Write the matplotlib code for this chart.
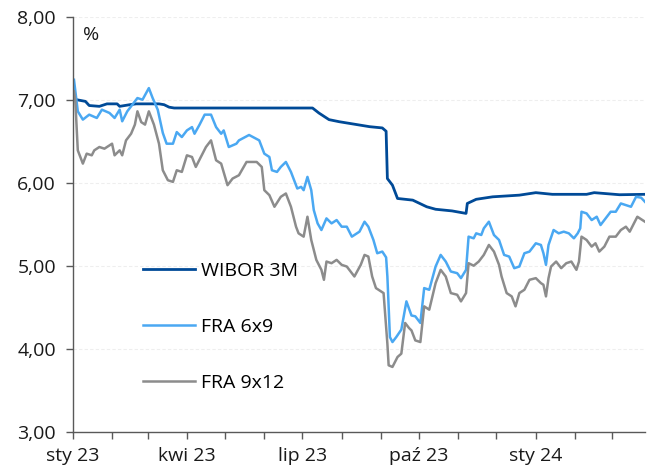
import pandas as pd
import matplotlib
matplotlib.use('Agg')
import matplotlib.pyplot as plt
import matplotlib.dates as mdates
from matplotlib.ticker import FuncFormatter

# ---------------- data ----------------
wibor_dates = ['2023-01-02', '2023-01-04', '2023-01-11', '2023-01-14', '2023-01-22', '2023-01-28',
               '2023-02-05', '2023-02-07', '2023-02-15', '2023-02-20', '2023-03-10', '2023-03-14',
               '2023-03-18', '2023-03-22', '2023-07-09', '2023-07-14', '2023-07-22', '2023-07-30',
               '2023-08-09', '2023-08-23', '2023-09-02', '2023-09-05', '2023-09-06', '2023-09-10',
               '2023-09-14', '2023-09-26', '2023-10-07', '2023-10-14', '2023-10-27', '2023-11-07',
               '2023-11-08', '2023-11-15', '2023-11-28', '2023-12-19', '2024-01-01', '2024-01-14',
               '2024-02-10', '2024-02-16', '2024-03-07', '2024-03-27']
wibor_vals = [7.02, 7.00, 6.98, 6.93, 6.92, 6.95,
              6.95, 6.92, 6.94, 6.95, 6.95, 6.94,
              6.91, 6.90, 6.90, 6.84, 6.76, 6.735,
              6.71, 6.675, 6.66, 6.62, 6.05, 5.97,
              5.81, 5.79, 5.71, 5.68, 5.66, 5.63,
              5.75, 5.80, 5.83, 5.85, 5.88, 5.86,
              5.86, 5.88, 5.855, 5.86]

fra69_dates = ['2023-01-02', '2023-01-05', '2023-01-09', '2023-01-14', '2023-01-20', '2023-01-24',
               '2023-01-30', '2023-02-03', '2023-02-07', '2023-02-09', '2023-02-13', '2023-02-17',
               '2023-02-21', '2023-02-25', '2023-03-02', '2023-03-05', '2023-03-09', '2023-03-13',
               '2023-03-16', '2023-03-21', '2023-03-24', '2023-03-28', '2023-04-01', '2023-04-05',
               '2023-04-07', '2023-04-11', '2023-04-15', '2023-04-20', '2023-04-24', '2023-04-28',
               '2023-04-30', '2023-05-04', '2023-05-10', '2023-05-12', '2023-05-20', '2023-05-28',
               '2023-06-01', '2023-06-05', '2023-06-07', '2023-06-11', '2023-06-14', '2023-06-18',
               '2023-06-22', '2023-06-25', '2023-06-27', '2023-06-30', '2023-07-02', '2023-07-05',
               '2023-07-08', '2023-07-10', '2023-07-13', '2023-07-16', '2023-07-20', '2023-07-24',
               '2023-07-28', '2023-08-01', '2023-08-05', '2023-08-09', '2023-08-15', '2023-08-19',
               '2023-08-22', '2023-08-26', '2023-08-29', '2023-09-02', '2023-09-05', '2023-09-06',
               '2023-09-08', '2023-09-10', '2023-09-13', '2023-09-17', '2023-09-21', '2023-09-25',
               '2023-09-28', '2023-10-02', '2023-10-05', '2023-10-09', '2023-10-14', '2023-10-18',
               '2023-10-22', '2023-10-26', '2023-10-31', '2023-11-03', '2023-11-07', '2023-11-09',
               '2023-11-13', '2023-11-15', '2023-11-19', '2023-11-21', '2023-11-25', '2023-11-29',
               '2023-12-03', '2023-12-07', '2023-12-11', '2023-12-15', '2023-12-19', '2023-12-23',
               '2023-12-27', '2024-01-01', '2024-01-05', '2024-01-07', '2024-01-09', '2024-01-11',
               '2024-01-15', '2024-01-19', '2024-01-23', '2024-01-27', '2024-01-31', '2024-02-03',
               '2024-02-05', '2024-02-06', '2024-02-10', '2024-02-14', '2024-02-18', '2024-02-21',
               '2024-02-25', '2024-02-29', '2024-03-04', '2024-03-08', '2024-03-12', '2024-03-16',
               '2024-03-20', '2024-03-24', '2024-03-27']
fra69_vals = [7.24, 6.86, 6.76, 6.82, 6.78, 6.88,
              6.84, 6.78, 6.88, 6.74, 6.86, 6.94,
              7.02, 7.00, 7.14, 7.02, 6.88, 6.60,
              6.47, 6.47, 6.61, 6.55, 6.63, 6.67,
              6.59, 6.70, 6.82, 6.82, 6.67, 6.59,
              6.63, 6.43, 6.47, 6.51, 6.575, 6.51,
              6.35, 6.31, 6.15, 6.13, 6.19, 6.25,
              6.13, 6.01, 5.93, 5.95, 5.91, 6.07,
              5.91, 5.67, 5.51, 5.43, 5.57, 5.51,
              5.55, 5.47, 5.47, 5.35, 5.41, 5.53,
              5.47, 5.31, 5.15, 5.17, 5.10, 4.87,
              4.14, 4.08, 4.14, 4.23, 4.57, 4.40,
              4.39, 4.31, 4.73, 4.71, 4.99, 5.13,
              5.05, 4.93, 4.91, 4.85, 4.95, 5.35,
              5.33, 5.39, 5.37, 5.45, 5.53, 5.37,
              5.31, 5.13, 5.11, 4.97, 4.99, 5.15,
              5.17, 5.27, 5.25, 5.15, 5.01, 5.25,
              5.43, 5.39, 5.41, 5.39, 5.33, 5.39,
              5.45, 5.65, 5.63, 5.55, 5.59, 5.49,
              5.57, 5.65, 5.65, 5.75, 5.73, 5.71,
              5.83, 5.82, 5.77]

fra912_dates = ['2023-01-02', '2023-01-03', '2023-01-05', '2023-01-09', '2023-01-12', '2023-01-16',
                '2023-01-18', '2023-01-22', '2023-01-26', '2023-02-01', '2023-02-03', '2023-02-07',
                '2023-02-09', '2023-02-12', '2023-02-16', '2023-02-19', '2023-02-21', '2023-02-24',
                '2023-02-27', '2023-03-02', '2023-03-06', '2023-03-10', '2023-03-13', '2023-03-17',
                '2023-03-21', '2023-03-24', '2023-03-28', '2023-04-01', '2023-04-05', '2023-04-08',
                '2023-04-12', '2023-04-16', '2023-04-20', '2023-04-24', '2023-04-28', '2023-05-03',
                '2023-05-07', '2023-05-12', '2023-05-18', '2023-05-26', '2023-05-30', '2023-06-01',
                '2023-06-05', '2023-06-09', '2023-06-14', '2023-06-18', '2023-06-22', '2023-06-26',
                '2023-06-28', '2023-07-02', '2023-07-05', '2023-07-08', '2023-07-12', '2023-07-16',
                '2023-07-18', '2023-07-20', '2023-07-24', '2023-07-28', '2023-08-01', '2023-08-05',
                '2023-08-11', '2023-08-16', '2023-08-19', '2023-08-22', '2023-08-25', '2023-08-28',
                '2023-09-01', '2023-09-03', '2023-09-06', '2023-09-07', '2023-09-10', '2023-09-14',
                '2023-09-17', '2023-09-20', '2023-09-23', '2023-09-25', '2023-09-28', '2023-10-02',
                '2023-10-05', '2023-10-09', '2023-10-14', '2023-10-18', '2023-10-22', '2023-10-26',
                '2023-10-31', '2023-11-03', '2023-11-07', '2023-11-09', '2023-11-13', '2023-11-17',
                '2023-11-21', '2023-11-25', '2023-11-29', '2023-12-03', '2023-12-05', '2023-12-09',
                '2023-12-13', '2023-12-16', '2023-12-19', '2023-12-23', '2023-12-27', '2024-01-01',
                '2024-01-05', '2024-01-07', '2024-01-09', '2024-01-11', '2024-01-13', '2024-01-17',
                '2024-01-21', '2024-01-25', '2024-01-29', '2024-02-02', '2024-02-04', '2024-02-06',
                '2024-02-10', '2024-02-14', '2024-02-17', '2024-02-20', '2024-02-24', '2024-02-28',
                '2024-03-04', '2024-03-08', '2024-03-12', '2024-03-15', '2024-03-21', '2024-03-25',
                '2024-03-27']
fra912_vals = [7.10, 7.00, 6.39, 6.23, 6.35, 6.33,
               6.39, 6.43, 6.41, 6.47, 6.33, 6.39,
               6.33, 6.51, 6.59, 6.70, 6.86, 6.73,
               6.70, 6.86, 6.70, 6.47, 6.15, 6.03,
               6.01, 6.15, 6.13, 6.33, 6.31, 6.19,
               6.31, 6.43, 6.51, 6.27, 6.23, 5.97,
               6.05, 6.09, 6.25, 6.25, 6.19, 5.91,
               5.85, 5.71, 5.83, 5.87, 5.71, 5.47,
               5.39, 5.35, 5.59, 5.31, 5.07, 4.95,
               4.83, 5.05, 5.03, 5.07, 5.01, 4.99,
               4.87, 5.01, 5.13, 5.11, 4.87, 4.73,
               4.69, 4.67, 4.06, 3.80, 3.78, 3.90,
               3.94, 4.31, 4.25, 4.22, 4.10, 4.08,
               4.51, 4.47, 4.79, 4.95, 4.87, 4.67,
               4.65, 4.57, 4.67, 5.03, 5.00, 5.05,
               5.13, 5.25, 5.17, 5.01, 4.87, 4.67,
               4.63, 4.51, 4.67, 4.71, 4.83, 4.85,
               4.79, 4.77, 4.63, 4.85, 4.99, 5.05,
               4.97, 5.03, 5.05, 4.95, 5.05, 5.35,
               5.31, 5.23, 5.27, 5.17, 5.23, 5.35,
               5.35, 5.43, 5.47, 5.41, 5.59, 5.55,
               5.53]

month_labels = {1: 'sty', 4: 'kwi', 7: 'lip', 10: 'paź'}

# ---------------- plotting ----------------
plt.rcParams['font.family'] = ['Open Sans', 'DejaVu Sans']
plt.rcParams['font.size'] = 14

fig = plt.figure(figsize=(6.51, 4.75), dpi=100)
ax = fig.add_axes([0.1117, 0.0912, 0.879, 0.8736])

ax.plot(pd.to_datetime(wibor_dates), wibor_vals, color='#004a97', linewidth=2.0, label='WIBOR 3M')
ax.plot(pd.to_datetime(fra69_dates), fra69_vals, color='#4aa8f2', linewidth=1.8, label='FRA 6x9')
ax.plot(pd.to_datetime(fra912_dates), fra912_vals, color='#8c8c8c', linewidth=1.8, label='FRA 9x12')

ax.set_ylim(3, 8)
ax.set_yticks([3, 4, 5, 6, 7, 8])
ax.yaxis.set_major_formatter(FuncFormatter(lambda v, p: f'{v:.2f}'.replace('.', ',')))
ax.set_xlim(pd.Timestamp('2023-01-01'), pd.Timestamp('2024-03-27'))

ax.xaxis.set_major_locator(mdates.MonthLocator())
def month_fmt(v, p):
    d = mdates.num2date(v)
    if d.month in month_labels:
        return f'{month_labels[d.month]} {d.year % 100}'
    return ''
ax.xaxis.set_major_formatter(FuncFormatter(month_fmt))

for s in ['top', 'right']:
    ax.spines[s].set_visible(False)
for s in ['left', 'bottom']:
    ax.spines[s].set_color('#595959')
    ax.spines[s].set_linewidth(1.0)
ax.tick_params(axis='both', colors='#595959', labelcolor='#1a1a1a', length=5, width=1.0)
ax.tick_params(axis='y', pad=7)
ax.tick_params(axis='x', pad=6)

ax.grid(axis='y', color='#eeeeee', linewidth=0.8, linestyle=(0, (3, 2)))
ax.set_axisbelow(True)

ax.text(0.018, 0.955, '%', transform=ax.transAxes, fontsize=14, va='center', ha='left', color='#1a1a1a')

ax.legend(loc='center left', bbox_to_anchor=(0.123, 0.252), frameon=False,
          handlelength=2.68, handletextpad=0.28, labelspacing=1.95,
          borderpad=0, borderaxespad=0, fontsize=14)

fig.savefig('out.png', dpi=100)
